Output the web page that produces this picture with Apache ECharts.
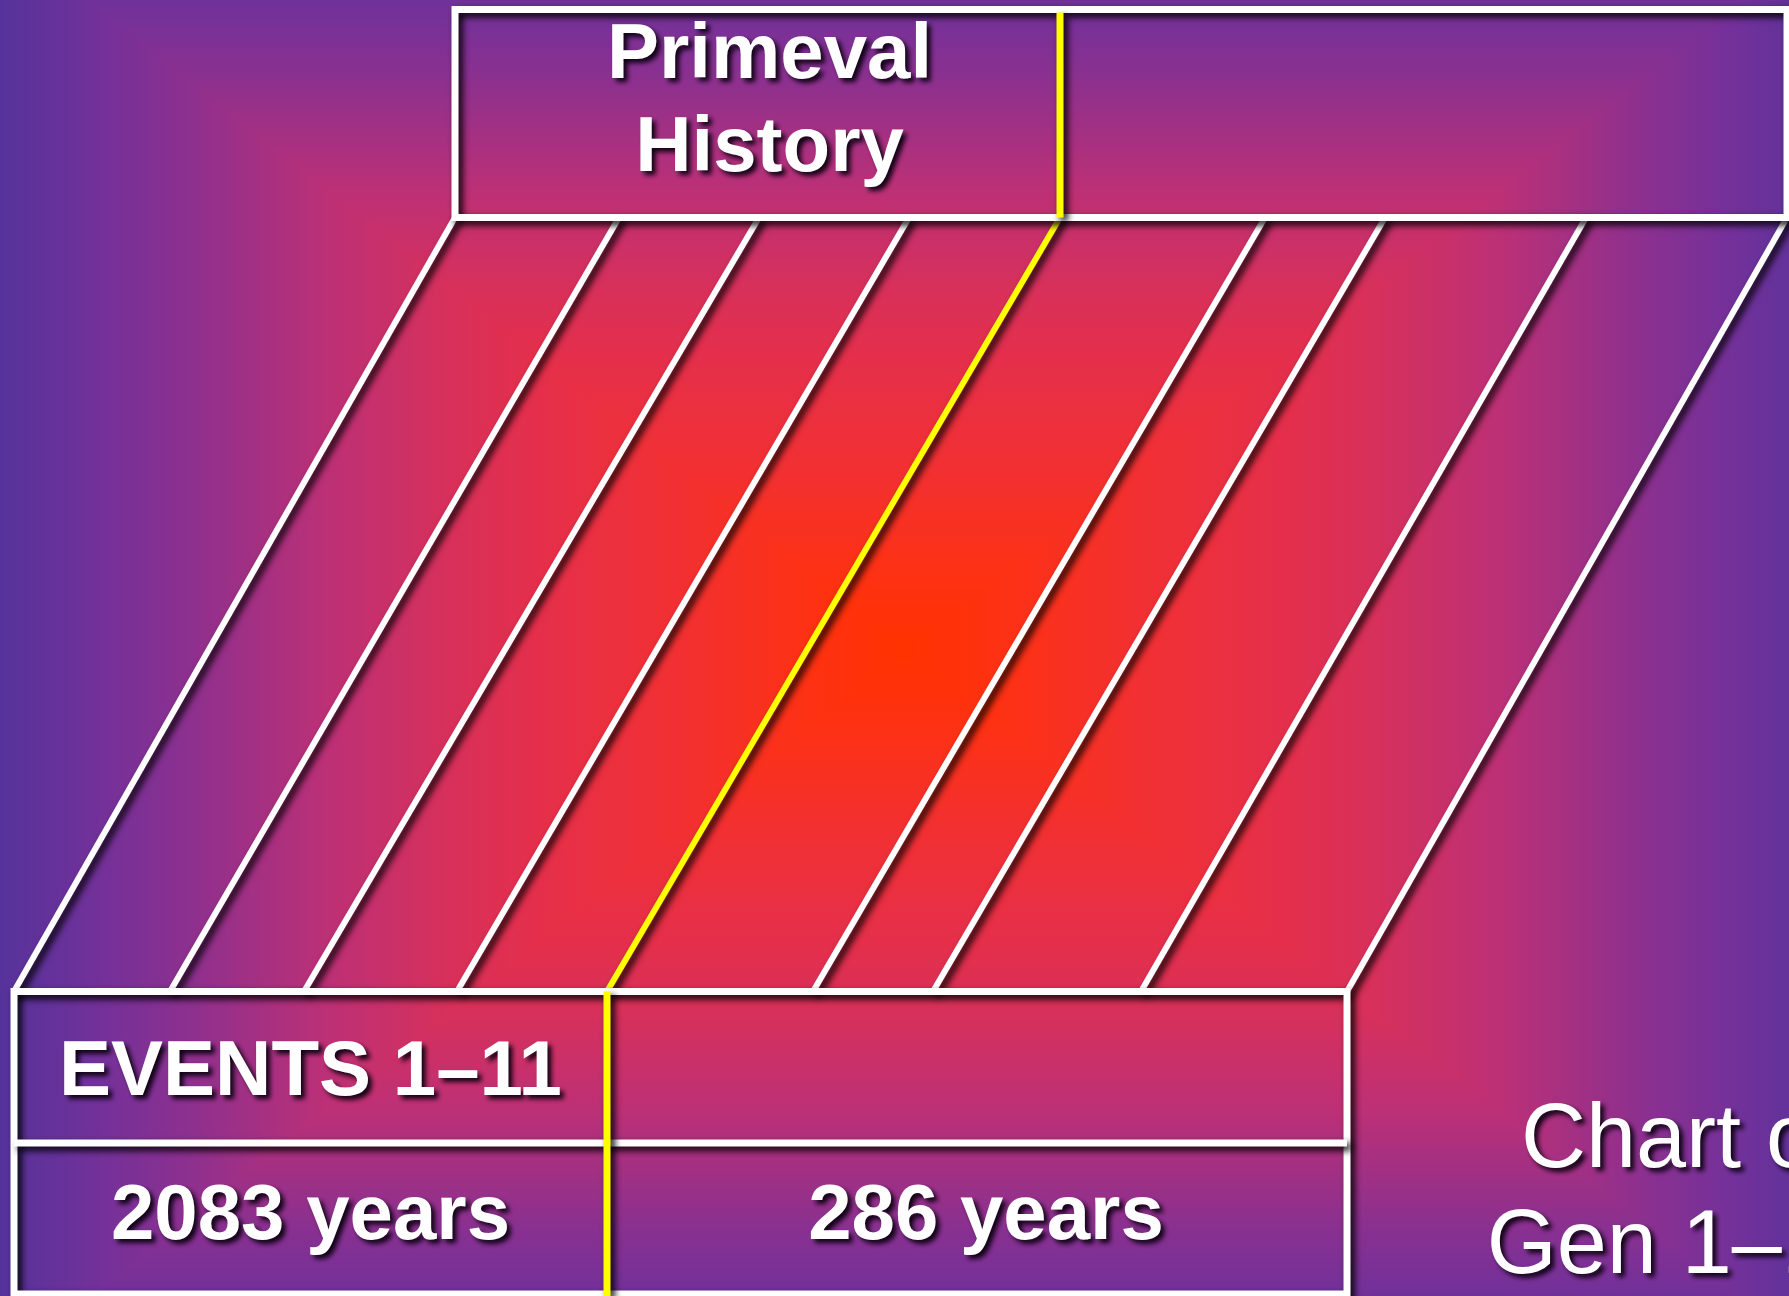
<!DOCTYPE html>
<html>
<head>
<meta charset="utf-8">
<script src="https://cdn.jsdelivr.net/npm/echarts@6/dist/echarts.min.js"></script>
<style>
html,body{margin:0;padding:0;background:#55339a;overflow:hidden}
#chart{width:1789px;height:1296px}
</style>
</head>
<body>
<div id="chart"></div>
<script>
// ---------------- data ----------------
// Positions of the slanted dividers on the upper (Primeval History) bar and on the lower (events) bar
const topDividers    = [455, 619, 759, 909, 1060, 1265, 1385, 1586, 1787];
const bottomDividers = [14, 170, 304, 457, 607, 813, 933, 1141, 1347];
const splitIndex     = 4;                       // the yellow divider
const headerLabels   = ['Primeval\nHistory', ''];
const eventLabels    = ['EVENTS 1–11', ''];
const durationLabels = ['2083 years', '286 years'];
const captionText    = 'Chart of\nGen 1–11';

// ---------------- layout / style ----------------
const W = 1789, H = 1296;
const Y = { headerTop: 9.5, headerBottom: 217.5, bandBottom: 991.5, rowSplit: 1143, footBottom: 1294 };
// small optical nudges of the labels relative to their cell centres (px)
const LABEL_DY = { header: -11, events: 6, durations: -1 };
const LABEL_DX = { header: [12, 0], events: [0, 0], durations: [0, 9] };
const FONT = '"Liberation Sans", Arial, Helvetica, sans-serif';
const WHITE = '#ffffff', YELLOW = '#ffff00';
const lineShadow = { shadowColor: 'rgba(0,0,0,1)', shadowBlur: 7, shadowOffsetX: 4, shadowOffsetY: 4 };
const textShadow = { textShadowColor: 'rgba(10,0,15,0.95)', textShadowBlur: 5, textShadowOffsetX: 4, textShadowOffsetY: 4 };

// ---------------- background (rectangular "from centre" gradient) ----------------
const cx = 905, cy = 650, WL = 905, WR = 930, HT = 720, HB = 720;
const stops = [[0,'#ff3300'],[0.1,'#fe3112'],[0.25,'#f23032'],[0.4,'#e52f4a'],[0.5,'#d8305a'],
               [0.64,'#bc3076'],[0.8,'#8a3090'],[0.9,'#70319a'],[1,'#55339a']]
  .map(s => ({ offset: s[0], color: s[1] }));
const lin = (x, y, x2, y2) => ({ type: 'linear', x, y, x2, y2, global: true, colorStops: stops });
const bg = [
  { type: 'rect', z: 0, silent: true, shape: { x: 0, y: 0, width: cx, height: H }, style: { fill: lin(cx, 0, cx - WL, 0) } },
  { type: 'rect', z: 0, silent: true, shape: { x: cx, y: 0, width: W - cx, height: H }, style: { fill: lin(cx, 0, cx + WR, 0) } },
  { type: 'polygon', z: 0, silent: true,
    shape: { points: [[cx, cy], [cx - WL * cy / HT, 0], [cx + WR * cy / HT, 0]] },
    style: { fill: lin(0, cy, 0, cy - HT) } },
  { type: 'polygon', z: 0, silent: true,
    shape: { points: [[cx, cy], [cx - WL * (H - cy) / HB, H], [cx + WR * (H - cy) / HB, H]] },
    style: { fill: lin(0, cy, 0, cy + HB) } }
];

// ---------------- derived series data ----------------
const last = topDividers.length - 1;
const dividerData = topDividers.map((t, i) => [t, bottomDividers[i], i === splitIndex ? 1 : 0]);
const frameData = [
  [topDividers[0], topDividers[last], Y.headerTop, Y.headerBottom, 0],
  [bottomDividers[0], bottomDividers[last], Y.bandBottom, Y.footBottom, 1]
];
const splitData = [
  [topDividers[splitIndex], Y.headerTop + 3, Y.headerBottom],
  [bottomDividers[splitIndex], Y.bandBottom, H]
];
const topCols = [[topDividers[0], topDividers[splitIndex]], [topDividers[splitIndex], topDividers[last]]];
const botCols = [[bottomDividers[0], bottomDividers[splitIndex]], [bottomDividers[splitIndex], bottomDividers[last]]];
const labelData = [];
headerLabels.forEach((t, i) => labelData.push({ name: t, value: [(topCols[i][0] + topCols[i][1]) / 2 + LABEL_DX.header[i], (Y.headerTop + Y.headerBottom) / 2 + LABEL_DY.header] }));
eventLabels.forEach((t, i) => labelData.push({ name: t, value: [(botCols[i][0] + botCols[i][1]) / 2 + LABEL_DX.events[i], (Y.bandBottom + Y.rowSplit) / 2 + LABEL_DY.events] }));
durationLabels.forEach((t, i) => labelData.push({ name: t, value: [(botCols[i][0] + botCols[i][1]) / 2 + LABEL_DX.durations[i], (Y.rowSplit + Y.footBottom) / 2 + LABEL_DY.durations] }));

const chart = echarts.init(document.getElementById('chart'), null, { renderer: 'canvas' });
chart.setOption({
  animation: false,
  backgroundColor: 'transparent',
  grid: { left: 0, right: 0, top: 0, bottom: 0 },
  xAxis: { type: 'value', min: 0, max: W, show: false },
  yAxis: { type: 'value', min: 0, max: H, inverse: true, show: false },
  graphic: bg.concat([
    { type: 'text', z: 20, silent: true, x: 1681, y: 1195,
      style: Object.assign({ text: captionText, fill: WHITE, fontSize: 90, fontWeight: 'normal', fontFamily: FONT,
        lineHeight: 106, align: 'center', verticalAlign: 'middle' }, textShadow) }
  ]),
  series: [
    {
      name: 'dividers', type: 'custom', z: 5, silent: true,
      data: dividerData,
      renderItem: (params, api) => {
        const p1 = api.coord([api.value(0), Y.headerBottom]);
        const p2 = api.coord([api.value(1), Y.bandBottom]);
        return { type: 'line', shape: { x1: p1[0], y1: p1[1], x2: p2[0], y2: p2[1] },
          style: Object.assign({ stroke: api.value(2) ? YELLOW : WHITE, lineWidth: 6 }, lineShadow) };
      }
    },
    {
      name: 'frames', type: 'custom', z: 6, silent: true,
      data: frameData,
      renderItem: (params, api) => {
        const a = api.coord([api.value(0), api.value(2)]);
        const b = api.coord([api.value(1), api.value(3)]);
        const children = [{ type: 'rect', shape: { x: a[0], y: a[1], width: b[0] - a[0], height: b[1] - a[1] },
          style: Object.assign({ fill: 'none', stroke: WHITE, lineWidth: 7 }, lineShadow) }];
        if (api.value(4)) {
          const m = api.coord([0, Y.rowSplit])[1];
          children.push({ type: 'line', shape: { x1: a[0], y1: m, x2: b[0], y2: m },
            style: Object.assign({ stroke: WHITE, lineWidth: 7 }, lineShadow) });
        }
        return { type: 'group', children };
      }
    },
    {
      name: 'split', type: 'custom', z: 7, silent: true,
      data: splitData,
      renderItem: (params, api) => {
        const a = api.coord([api.value(0), api.value(1)]);
        const b = api.coord([api.value(0), api.value(2)]);
        return { type: 'line', shape: { x1: a[0], y1: a[1], x2: b[0], y2: b[1] },
          style: Object.assign({ stroke: YELLOW, lineWidth: 7 }, lineShadow) };
      }
    },
    {
      name: 'labels', type: 'custom', z: 8, silent: true,
      data: labelData,
      renderItem: (params, api) => {
        const p = api.coord([api.value(0), api.value(1)]);
        const text = labelData[params.dataIndex].name;
        return { type: 'text', x: p[0], y: p[1],
          style: Object.assign({ text, fill: WHITE, fontSize: 78, fontWeight: 'bold', fontFamily: FONT,
            lineHeight: 93, align: 'center', verticalAlign: 'middle' }, textShadow) };
      }
    }
  ]
});
</script>
</body>
</html>
